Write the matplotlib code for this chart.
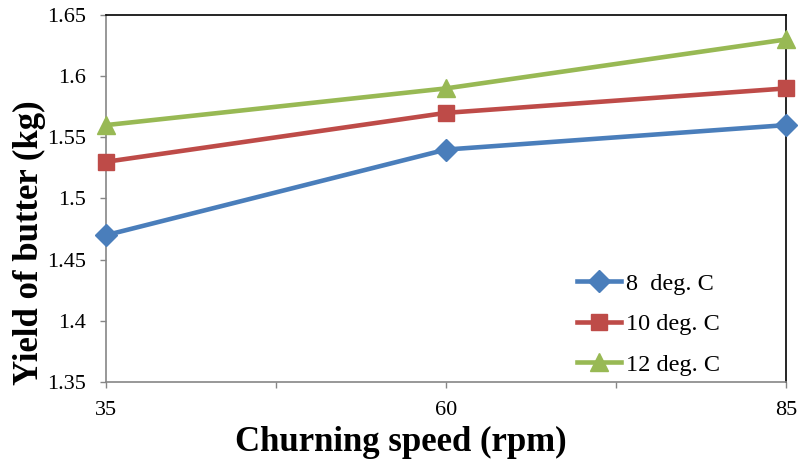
import matplotlib
matplotlib.use("Agg")
from matplotlib import pyplot as plt

speeds = [35, 60, 85]
series_labels = ["8  deg. C", "10 deg. C", "12 deg. C"]
yield_8 = [1.47, 1.54, 1.56]
yield_10 = [1.53, 1.57, 1.59]
yield_12 = [1.56, 1.59, 1.63]

plt.rcParams['font.family'] = ['Liberation Serif', 'DejaVu Serif']
plt.rcParams['xtick.labelsize'] = 16
plt.rcParams['ytick.labelsize'] = 16
plt.rcParams['xtick.major.pad'] = 9.5
plt.rcParams['ytick.major.pad'] = 10

fig = plt.figure(figsize=(7.99, 4.62), dpi=100)
ax = fig.add_axes([0.1327, 0.1732, 0.8510, 0.7943])

styles = [('#4A7EBB', 'D', 11), ('#BE4B48', 's', 12), ('#98B954', '^', 13)]
for vals, lab, (c, m, ms) in zip([yield_8, yield_10, yield_12], series_labels, styles):
    ax.plot(speeds, vals, color=c, marker=m, markersize=ms, linewidth=3.3,
            label=lab, clip_on=False, zorder=3)

ax.set_xlim(35, 85)
ax.set_ylim(1.35, 1.65)
ax.set_xticks(speeds)
ax.set_xticks([47.5, 72.5], minor=True)
ax.set_yticks([1.35, 1.4, 1.45, 1.5, 1.55, 1.6, 1.65])
ax.set_yticklabels(['1.35', '1.4', '1.45', '1.5', '1.55', '1.6', '1.65'])

ax.tick_params(axis='both', which='both', direction='out', color='#868686',
               length=4.5, width=1)

for side in ['left', 'bottom']:
    ax.spines[side].set_color('#868686')
    ax.spines[side].set_linewidth(1.2)
for side in ['top', 'right']:
    ax.spines[side].set_color('black')
    ax.spines[side].set_linewidth(1.2)

ax.set_xlabel('Churning speed (rpm)', fontsize=25, fontweight='bold')
ax.set_ylabel('Yield of butter (kg)', fontsize=25, fontweight='bold')
ax.xaxis.set_label_coords(0.434, -0.12)
ax.yaxis.set_label_coords(-0.088, 0.379)

ax.legend(loc='upper left', bbox_to_anchor=(0.693, 0.297), frameon=False,
          borderaxespad=0, borderpad=0,
          fontsize=17.5, handlelength=1.8, labelspacing=0.76, handletextpad=0.2)

fig.savefig('out.png', dpi=100)
